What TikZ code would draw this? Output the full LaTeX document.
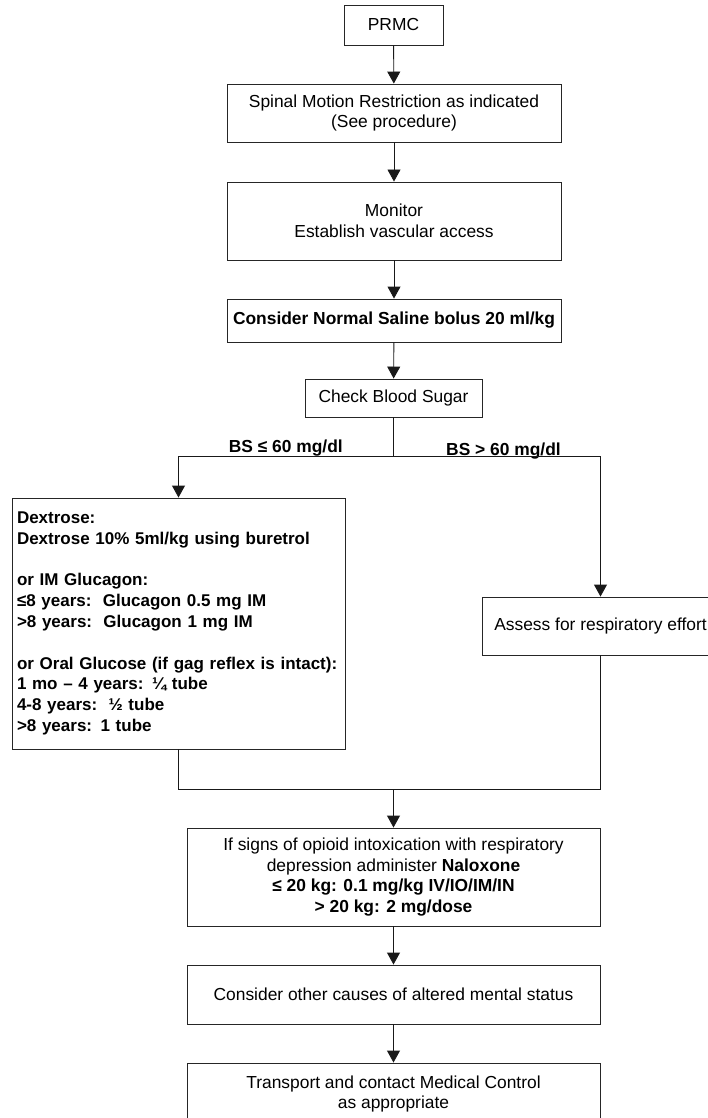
\documentclass[tikz,border=0pt]{standalone}
\usepackage{fontspec}
\setmainfont{Liberation Sans}
\usetikzlibrary{arrows.meta}
\tikzset{
  stepbox/.style={draw=black!85, line width=0.9pt, align=center, inner sep=0pt,
    font=\fontsize{17.4pt}{20.6pt}\selectfont},
  doselist/.style={stepbox, align=left, inner xsep=5pt, text width=323pt,
    font=\fontsize{17pt}{20.8pt}\selectfont},
  link/.style={draw=black!90, line width=0.9pt},
  arr/.style={link, -{Triangle[width=13pt,length=12pt]}},
  branchlbl/.style={font=\fontsize{17.4pt}{20.6pt}\selectfont\bfseries, inner sep=0pt},
}

\begin{document}
\begin{tikzpicture}[x=1pt,y=-1pt]
      \useasboundingbox (0,0) rectangle (707,1118);

      \node[stepbox, minimum width=99pt, minimum height=40pt] (prmc) at (393.5,25) {PRMC};
      \node[stepbox, minimum width=334pt, minimum height=58pt] (smr) at (394,113)
        {Spinal Motion Restriction as indicated\\(See procedure)};
      \node[stepbox, minimum width=334pt, minimum height=78pt] (monitor) at (394,221)
        {Monitor\\Establish vascular access};
      \node[stepbox, minimum width=334pt, minimum height=43pt] (saline) at (394,320.5)
        {\bfseries Consider Normal Saline bolus 20 ml/kg};
      \node[stepbox, minimum width=177pt, minimum height=38pt] (bsugar) at (393.5,398)
        {Check Blood Sugar};

      \node[doselist, minimum height=251pt] (dextrose) at (178.5,623.5)
        {\bfseries Dextrose:\\
         Dextrose 10\% 5ml/kg using buretrol\\[20.8pt]
         or IM Glucagon:\\
         ≤8 years:\ \ Glucagon 0.5 mg IM\\
         >8 years:\ \ Glucagon 1 mg IM\\[20.8pt]
         \mbox{or Oral Glucose (if gag reflex is intact):}\\
         1 mo – 4 years: ¼ tube\\
         4-8 years:\ \ ½ tube\\
         >8 years: 1 tube};
      \node[stepbox, minimum width=237pt, minimum height=58pt] (assess) at (600.5,626)
        {Assess for respiratory effort};

      \node[stepbox, minimum width=413pt, minimum height=98pt] (naloxone) at (393.5,877)
        {If signs of opioid intoxication with respiratory\\
         depression administer \textbf{Naloxone}\\
         \textbf{≤ 20 kg: 0.1 mg/kg IV/IO/IM/IN}\\
         \textbf{> 20 kg: 2 mg/dose}};
      \node[stepbox, minimum width=413pt, minimum height=59pt] (othercause) at (393.5,994.5)
        {Consider other causes of altered mental status};
      \node[stepbox, minimum width=413pt, minimum height=62pt] (transport) at (393.5,1094)
        {Transport and contact Medical Control\\as appropriate};

      \node[branchlbl, anchor=base east] (lowbs) at (343,452) {BS ≤ 60 mg/dl};
      \node[branchlbl, anchor=base west] (highbs) at (446,455) {BS > 60 mg/dl};

      \coordinate (fork) at (393.5,456);
      \coordinate (join) at (393.5,789);

      \draw[arr] (prmc) -- (smr);
      \draw[arr] (smr) -- (monitor);
      \draw[arr] (monitor) -- (saline);
      \draw[arr] (saline) -- (bsugar);
      \draw[link] (bsugar) -- (fork);
      \draw[arr] (fork) -| (dextrose.north);
      \draw[arr] (fork) -| (assess.north);
      \draw[link] (dextrose.south) |- (join);
      \draw[link] (assess.south) |- (join);
      \draw[arr] (join) -- (naloxone);
      \draw[arr] (naloxone) -- (othercause);
      \draw[arr] (othercause) -- (transport);
\end{tikzpicture}
\end{document}
